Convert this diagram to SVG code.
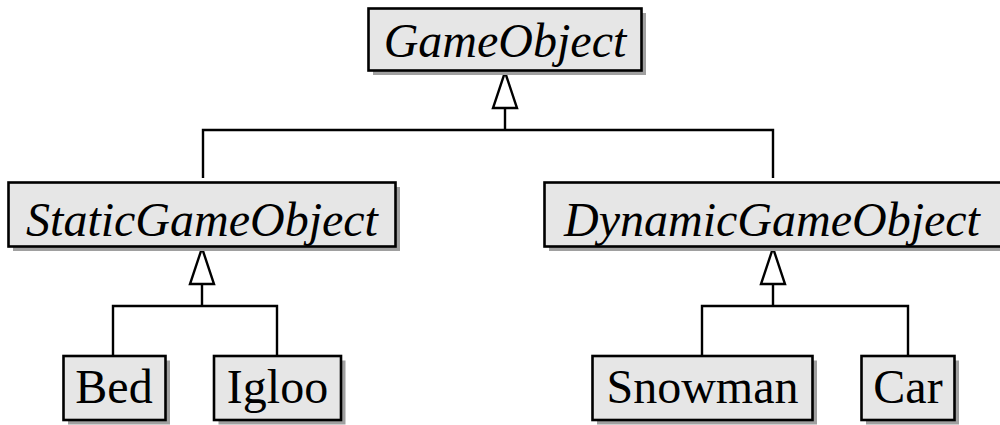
<svg xmlns="http://www.w3.org/2000/svg" width="1000" height="425" viewBox="0 0 1000 425">
  <style>
    .shadow { fill: #a0a0a0; }
    .box { fill: #e6e6e6; stroke: #000000; stroke-width: 2.6; }
    .lbl { font-family: "Liberation Serif", "Times New Roman", serif; font-size: 48px; fill: #000000; text-anchor: middle; }
    .abs { font-style: italic; }
    .conn { fill: none; stroke: #000000; stroke-width: 2.4; }
    .head { fill: #ffffff; stroke: #000000; stroke-width: 2.4; }
  </style>
  <rect width="1000" height="425" fill="#ffffff"/>

  <g id="connectors">
    <!-- GameObject hierarchy -->
    <path class="conn" d="M505 108 V130 M203 178 V130 H773 V178"/>
    <!-- StaticGameObject hierarchy -->
    <path class="conn" d="M202 284 V306 M113 356 V306 H277 V356"/>
    <!-- DynamicGameObject hierarchy -->
    <path class="conn" d="M773 284 V306 M702 356 V306 H908 V356"/>
    <!-- generalization heads -->
    <path class="head" d="M505 72 L517 108 L493 108 Z"/>
    <path class="head" d="M202 248 L214 284 L190 284 Z"/>
    <path class="head" d="M773 248 L785 284 L761 284 Z"/>
  </g>

  <g id="GameObject">
    <rect class="shadow" x="373" y="13" width="273" height="62"/>
    <rect class="box" x="368.5" y="8.5" width="273" height="62"/>
    <text class="lbl abs" x="505" y="57">GameObject</text>
  </g>

  <g id="StaticGameObject">
    <rect class="shadow" x="13" y="187" width="387" height="64"/>
    <rect class="box" x="8.5" y="182.5" width="387" height="64"/>
    <text class="lbl abs" x="202" y="236">StaticGameObject</text>
  </g>

  <g id="DynamicGameObject">
    <rect class="shadow" x="549" y="187" width="457" height="64"/>
    <rect class="box" x="544.5" y="182.5" width="457" height="64"/>
    <text class="lbl abs" x="772" y="236">DynamicGameObject</text>
  </g>

  <g id="Bed">
    <rect class="shadow" x="68" y="360.5" width="102" height="64"/>
    <rect class="box" x="63.5" y="356" width="102" height="64"/>
    <text class="lbl" x="114" y="403">Bed</text>
  </g>

  <g id="Igloo">
    <rect class="shadow" x="218.5" y="360.5" width="127" height="64"/>
    <rect class="box" x="214" y="356" width="127" height="64"/>
    <text class="lbl" x="277.5" y="403">Igloo</text>
  </g>

  <g id="Snowman">
    <rect class="shadow" x="597" y="360.5" width="220" height="64"/>
    <rect class="box" x="592.5" y="356" width="220" height="64"/>
    <text class="lbl" x="702.5" y="403">Snowman</text>
  </g>

  <g id="Car">
    <rect class="shadow" x="866" y="360.5" width="93" height="64"/>
    <rect class="box" x="861.5" y="356" width="93" height="64"/>
    <text class="lbl" x="908" y="403">Car</text>
  </g>
</svg>
